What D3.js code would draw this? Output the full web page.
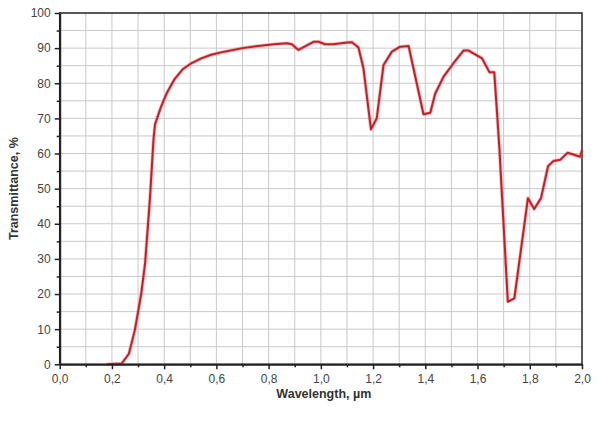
<!DOCTYPE html>
<html><head><meta charset="utf-8">
<script src="https://cdn.jsdelivr.net/npm/d3@7/dist/d3.min.js"></script>
<style>body{margin:0;background:#fff}svg{display:block}</style>
</head><body><svg id="c" width="600" height="422"></svg>
<script>
const wavelength = [0.18,0.237,0.265,0.288,0.312,0.327,0.346,0.359,0.365,0.388,0.41,0.44,0.47,0.50,0.54,0.58,0.63,0.70,0.76,0.82,0.87,0.889,0.914,0.972,0.991,1.016,1.048,1.10,1.119,1.144,1.163,1.192,1.214,1.24,1.272,1.304,1.336,1.393,1.419,1.438,1.47,1.508,1.546,1.566,1.617,1.646,1.664,1.674,1.684,1.716,1.741,1.793,1.817,1.843,1.87,1.891,1.917,1.945,1.993,2.0];
const transmittance = [0,0.2,3,9.8,20,28.7,47.7,63.8,68.3,73.3,77.2,81.2,83.9,85.5,87,88.1,89,90,90.6,91.1,91.4,91.1,89.5,91.8,91.8,91.1,91.1,91.6,91.7,90.2,84.3,66.9,70,85.2,89,90.4,90.6,71.2,71.6,77.1,81.9,85.7,89.3,89.3,87.1,83.1,83.1,72.4,61,17.8,18.8,47.3,44.2,47.3,56.4,57.9,58.2,60.2,59.1,61];
const xTicks = [0,0.2,0.4,0.6,0.8,1.0,1.2,1.4,1.6,1.8,2.0];
const yTicks = [0,10,20,30,40,50,60,70,80,90,100];

const svg = d3.select("#c");
const L=59.7, R=582, T=13, B=364.3;
const x = d3.scaleLinear().domain([0,2]).range([L,R]);
const y = d3.scaleLinear().domain([0,100]).range([B,T]);
const fmt = d => d.toFixed(1).replace(".", ",");
const FONT = "Liberation Sans, Arial, sans-serif";

// grid
const g = svg.append("g");
g.selectAll(".vx").data(d3.range(1,20).map(i=>i/10)).join("line")
  .attr("x1",d=>x(d)).attr("x2",d=>x(d)).attr("y1",T).attr("y2",B)
  .attr("stroke","#c9c9c9").attr("stroke-width",1);
g.selectAll(".hy").data(d3.range(1,20).map(i=>i*5)).join("line")
  .attr("y1",d=>y(d)).attr("y2",d=>y(d)).attr("x1",L).attr("x2",R)
  .attr("stroke","#c9c9c9").attr("stroke-width",1);

// frame
svg.append("rect").attr("x",L).attr("y",T).attr("width",R-L).attr("height",B-T)
  .attr("fill","none").attr("stroke","#222").attr("stroke-width",1.5);

// curve
const line = d3.line().x((d,i)=>x(wavelength[i])).y((d,i)=>y(transmittance[i]));
svg.append("path").datum(transmittance).attr("d",line)
  .attr("fill","none").attr("stroke","#f06a6a").attr("stroke-width",3.6).attr("stroke-opacity",0.45)
  .attr("stroke-linejoin","round");
svg.append("path").datum(transmittance).attr("d",line)
  .attr("fill","none").attr("stroke","#c0202a").attr("stroke-width",2)
  .attr("stroke-linejoin","round");

// axes
const xAxis = d3.axisBottom(x).tickValues(xTicks).tickFormat(fmt).tickSize(5).tickSizeOuter(0);
const xa = svg.append("g").attr("transform",`translate(0,${B})`).call(xAxis);
xa.select(".domain").attr("stroke","#222").attr("stroke-width",2);
xa.selectAll(".tick line").attr("stroke","#222").attr("stroke-width",1.5);
xa.selectAll(".tick text").attr("font-family",FONT).attr("font-size",12).attr("fill","#444").attr("dy","0.88em");
const xMinor = d3.axisBottom(x).tickValues(d3.range(1,20,2).map(i=>i/10)).tickFormat("").tickSize(3).tickSizeOuter(0);
const xm = svg.append("g").attr("transform",`translate(0,${B})`).call(xMinor);
xm.select(".domain").remove();
xm.selectAll(".tick line").attr("stroke","#222").attr("stroke-width",1.5);

const yAxis = d3.axisLeft(y).tickValues(yTicks).tickSize(5).tickSizeOuter(0);
const ya = svg.append("g").attr("transform",`translate(${L},0)`).call(yAxis);
ya.select(".domain").attr("stroke","#222").attr("stroke-width",2);
ya.selectAll(".tick line").attr("stroke","#222").attr("stroke-width",1.5);
ya.selectAll(".tick text").attr("font-family",FONT).attr("font-size",12).attr("fill","#444").attr("x",-9);
const yMinor = d3.axisLeft(y).tickValues(d3.range(5,100,10)).tickFormat("").tickSize(3).tickSizeOuter(0);
const ym = svg.append("g").attr("transform",`translate(${L},0)`).call(yMinor);
ym.select(".domain").remove();
ym.selectAll(".tick line").attr("stroke","#222").attr("stroke-width",1.5);

// labels
svg.append("text").attr("x",(L+R)/2+3).attr("y",398).attr("text-anchor","middle")
  .attr("font-family",FONT).attr("font-size",12.5).attr("font-weight","bold").attr("fill","#333")
  .text("Wavelength, µm");
svg.append("text").attr("transform",`translate(18,${(T+B)/2}) rotate(-90)`).attr("text-anchor","middle")
  .attr("font-family",FONT).attr("font-size",12.5).attr("font-weight","bold").attr("fill","#333")
  .text("Transmittance, %");
</script></body></html>
